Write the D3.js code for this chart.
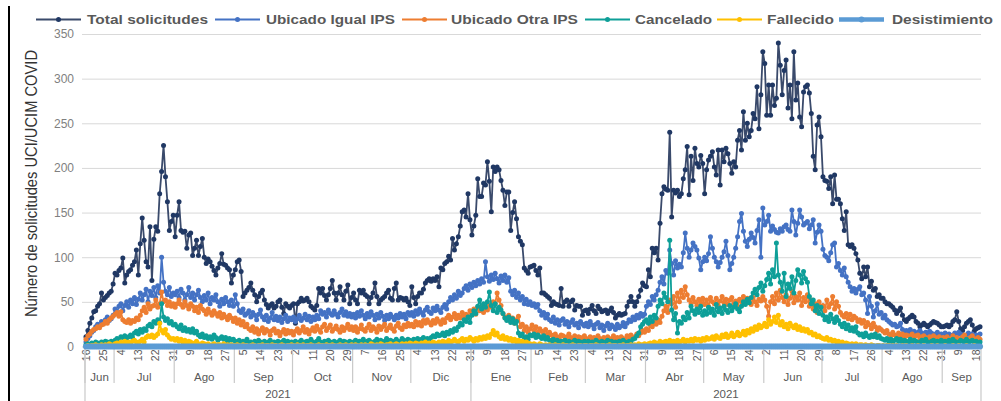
<!DOCTYPE html>
<html>
<head>
<meta charset="utf-8">
<script src="https://cdn.jsdelivr.net/npm/d3@7"></script>
<style>
  body { margin: 0; background: #fff; }
  svg { display: block; font-family: "Liberation Sans", Arial, sans-serif; }
</style>
</head>
<body>
<svg id="chart" width="1001" height="401"></svg>
<script>
// daily series, 16 Jun 2020 .. 20 Sep 2021
const startDate = new Date(2020, 5, 16);
const endDate = new Date(2021, 8, 20);

const monthNames = ["Ene", "Feb", "Mar", "Abr", "May", "Jun", "Jul", "Ago", "Sep", "Oct", "Nov", "Dic"];
const yearLabels = ["2021", "2021"];
const yTicks = [0, 50, 100, 150, 200, 250, 300, 350];
const seriesNames = ["Total solicitudes", "Ubicado Igual IPS", "Ubicado Otra IPS", "Cancelado", "Fallecido", "Desistimiento"];

const totalSolicitudes = [
  11,18,26,32,39,40,45,48,60,52,55,57,60,62,70,
  82,80,85,88,99,71,80,84,86,91,95,108,80,115,144,119,95,89,134,74,120,134,129,171,196,225,190,162,130,140,147,
  123,147,162,130,128,129,110,125,127,102,110,119,102,112,121,100,93,98,95,90,85,80,88,93,104,92,91,88,86,71,80,
  86,95,97,84,56,60,63,66,71,63,58,50,56,60,63,52,47,43,46,48,43,45,50,52,44,37,48,45,43,46,
  48,26,48,50,54,51,52,54,50,45,43,41,46,65,60,65,57,52,58,65,74,60,52,60,67,58,52,62,69,48,55,
  60,52,48,63,60,63,58,56,48,55,60,71,56,48,52,54,56,60,63,54,52,65,71,52,55,54,52,54,50,46,
  67,55,48,56,60,60,64,71,74,76,73,76,74,78,67,88,86,93,95,101,97,121,108,115,123,135,151,153,145,171,142,
  125,135,147,188,168,168,183,181,207,185,151,201,196,201,198,186,175,158,173,173,130,150,162,143,123,118,114,88,85,82,89,
  90,91,85,80,88,60,60,58,56,54,46,50,48,47,46,65,45,50,52,45,50,52,41,46,45,45,35,40,
  41,37,42,46,40,37,45,42,39,40,41,37,40,43,38,32,35,37,35,36,37,45,50,56,50,45,50,56,63,71,68,
  67,86,78,110,105,110,97,138,171,179,176,175,240,145,175,172,175,168,171,188,198,224,170,213,186,222,205,201,214,205,
  171,198,209,213,218,201,192,220,181,220,207,222,216,205,194,207,201,231,242,220,263,231,250,235,242,261,255,291,244,282,330,
  317,259,293,259,293,270,278,340,315,282,309,321,267,293,255,330,276,295,257,246,285,291,293,284,261,213,198,248,257,235,
  190,186,185,177,190,160,192,165,165,160,143,130,151,114,112,114,110,104,97,82,76,89,78,89,67,73,63,65,56,58,54,
  54,50,48,48,46,44,41,37,40,43,35,30,28,31,33,35,33,28,26,22,24,26,24,22,24,26,28,27,26,24,22,
  22,23,24,22,24,28,30,39,28,20,18,22,26,28,30,24,17,20,21,22
];

const ubicadoIgual = [
  5,9,12,16,18,22,25,24,28,26,30,33,29,31,35,
  42,38,45,48,40,46,50,44,52,48,55,47,53,60,52,58,64,50,62,57,66,55,68,60,100,72,62,58,66,56,60,
  58,62,55,64,60,52,58,66,55,60,52,58,63,55,50,57,52,60,48,55,52,58,50,45,53,48,55,50,46,52,45,
  58,48,40,38,42,35,37,40,33,38,35,30,36,41,33,30,35,28,32,38,30,34,29,33,27,31,35,28,32,30,
  33,28,31,35,29,32,36,30,34,28,33,30,35,31,40,36,38,33,41,37,35,40,36,33,38,42,35,39,34,37,33,
  36,32,38,34,40,35,31,37,33,39,35,30,36,32,38,34,29,35,31,36,33,30,35,32,37,33,36,31,38,35,
  38,34,40,36,42,38,35,41,44,39,37,43,40,45,41,38,44,47,42,50,55,52,58,54,62,57,60,65,68,63,70,
  66,72,68,74,70,76,72,95,78,73,80,75,82,76,71,79,74,80,72,77,62,58,63,55,60,52,56,48,53,47,50,
  46,48,44,47,40,35,38,32,36,30,28,33,26,30,24,29,31,25,28,22,27,30,24,26,21,28,25,23,
  26,22,28,24,20,25,27,21,24,18,23,26,20,24,22,19,25,21,23,27,22,26,30,28,33,30,35,32,37,34,36,
  45,50,47,56,52,58,63,72,78,70,85,82,108,93,80,96,88,92,89,105,127,110,100,108,116,112,108,99,86,95,
  100,96,104,123,110,100,95,89,94,100,106,118,102,86,93,100,110,123,140,149,129,118,112,120,127,122,116,130,142,100,155,
  136,140,147,129,135,131,128,127,132,129,134,136,131,129,153,140,125,138,153,145,136,138,140,132,136,142,116,128,136,129,
  109,102,100,96,105,114,116,89,93,85,80,88,78,72,67,62,65,60,64,67,58,60,52,37,56,45,33,40,48,36,38,
  32,35,30,28,26,24,25,22,23,26,19,17,18,16,19,15,17,14,16,18,15,13,16,14,17,15,13,14,16,12,14,
  13,15,12,14,11,13,15,12,16,14,12,11,13,15,12,14,11,13,12,14
];

const ubicadoOtra = [
  8,12,14,17,19,20,22,21,24,25,28,26,30,32,34,
  36,38,34,39,30,28,27,30,26,29,28,32,30,35,40,44,38,48,42,45,46,52,44,48,61,50,52,46,50,45,48,
  44,48,52,47,44,50,46,42,48,45,40,44,38,46,42,40,36,42,38,35,40,37,34,38,32,36,33,30,35,32,28,
  32,26,30,24,28,22,25,20,18,22,16,20,14,18,21,15,19,17,13,18,20,15,17,12,16,19,14,18,15,17,
  13,17,20,15,18,22,16,19,14,18,21,17,23,19,16,22,25,18,21,24,17,20,23,19,16,22,18,21,25,19,22,
  18,22,16,20,24,19,17,21,25,18,22,20,16,23,19,22,25,18,21,24,20,17,23,26,21,19,24,22,26,23,
  25,22,28,24,27,23,29,26,30,27,24,29,26,31,28,25,30,27,32,35,30,33,37,31,35,32,38,34,36,33,40,
  38,42,36,44,40,45,38,43,41,46,44,50,48,60,52,46,37,33,30,35,28,32,26,30,34,22,25,18,22,16,20,
  24,18,22,15,20,17,14,19,12,16,13,10,14,11,9,13,12,8,11,14,10,9,12,7,11,10,8,12,
  9,7,11,8,10,6,12,9,7,10,8,11,6,9,12,8,10,7,11,9,8,12,10,13,9,11,14,12,15,18,16,
  20,18,24,22,28,25,30,27,34,40,45,38,52,48,56,44,60,50,63,55,67,58,52,48,55,50,46,53,49,54,
  47,52,45,55,50,48,54,46,51,56,49,53,47,52,55,48,51,45,53,50,56,49,54,52,47,55,50,46,53,51,56,
  52,45,34,50,56,48,60,52,63,55,50,58,47,54,62,49,56,52,60,46,55,50,58,45,52,42,48,38,50,44,
  46,40,52,44,48,56,42,50,45,38,35,33,37,31,36,30,34,32,28,30,26,29,22,27,24,20,26,22,18,21,19,
  17,15,18,14,12,16,13,11,15,12,14,10,13,12,11,14,10,12,13,9,11,12,10,8,11,9,12,10,8,11,9,
  10,8,11,7,9,12,8,10,9,7,11,13,9,8,10,12,9,7,10,8
];

const cancelado = [
  2,3,2,4,3,5,4,3,5,4,6,5,4,6,5,
  7,9,8,11,10,12,9,11,13,10,15,17,14,19,16,20,18,23,25,22,28,26,30,27,48,33,29,31,26,28,24,
  25,22,20,24,18,21,17,19,16,20,15,17,13,11,14,10,12,9,11,8,13,10,7,9,11,8,10,6,9,7,8,
  6,5,7,4,6,5,8,4,5,3,6,4,7,5,3,6,4,5,7,3,5,4,6,3,5,7,4,6,3,5,
  4,6,3,5,7,4,5,6,3,8,5,4,6,9,5,3,6,4,7,5,4,6,3,5,7,4,6,5,3,6,4,
  5,7,4,6,5,8,4,6,7,5,3,6,8,5,7,4,6,9,5,7,6,4,8,6,5,9,7,6,8,7,
  6,8,7,9,6,8,10,7,9,8,10,12,11,14,12,13,15,12,16,14,18,16,20,18,22,26,24,30,28,33,27,
  35,40,37,45,52,42,48,44,50,61,46,40,48,38,44,41,37,32,29,33,27,31,26,28,15,12,14,9,11,8,13,
  12,14,10,13,11,9,12,8,10,7,6,8,5,7,4,6,5,7,4,6,3,5,7,4,6,5,3,6,
  4,6,3,5,4,7,5,3,6,4,5,7,3,6,4,5,3,6,4,7,5,4,6,5,8,9,12,15,22,25,28,
  30,26,33,28,35,32,45,52,48,60,55,50,119,41,30,37,15,28,26,33,30,38,32,45,40,36,42,38,45,35,
  40,36,44,38,42,35,47,39,43,37,45,41,38,46,40,44,48,42,39,45,50,47,53,49,55,60,64,58,66,71,62,
  68,75,82,70,86,78,116,80,72,62,82,56,70,65,78,60,74,86,80,71,84,76,72,56,48,52,40,46,37,44,
  35,30,33,28,36,31,27,33,29,25,22,26,20,24,18,21,17,22,15,13,14,11,15,12,10,13,11,14,10,12,9,
  8,7,9,6,8,5,7,9,6,8,5,7,6,4,8,5,7,6,4,5,7,6,8,5,4,6,7,5,6,4,7,
  5,6,4,7,5,8,6,4,5,7,6,5,8,4,6,7,5,6,4,5
];

const fallecido = [
  0,1,0,1,1,2,1,0,2,1,2,1,3,2,1,
  3,4,2,5,3,6,4,5,3,6,7,5,4,6,8,5,10,12,11,13,10,12,14,26,18,15,19,13,10,8,9,
  7,9,6,8,5,7,4,6,5,3,4,6,3,2,4,3,2,3,1,2,3,1,2,2,1,3,1,2,1,2,1,
  1,2,1,0,2,1,1,0,1,2,1,0,1,1,2,0,1,1,0,2,1,1,0,1,2,1,0,1,1,2,
  1,0,2,1,1,2,0,1,1,2,1,0,1,2,1,1,0,2,1,1,2,1,0,1,2,1,1,2,0,1,2,
  1,2,1,0,2,1,2,1,1,3,2,1,2,1,3,2,1,2,2,3,1,2,3,2,1,3,2,3,2,4,
  3,2,4,3,2,4,3,5,3,4,2,5,4,3,5,4,6,5,4,7,5,6,8,6,5,7,9,6,8,7,10,
  8,6,9,7,10,8,11,9,12,10,14,18,13,15,11,9,12,8,10,7,9,6,8,5,7,4,6,3,5,4,3,
  2,3,2,1,3,2,1,2,1,2,0,1,2,1,1,0,2,1,1,0,1,2,1,0,1,1,0,1,
  1,0,1,1,0,2,1,0,1,1,0,1,2,0,1,1,0,1,1,2,0,1,1,2,1,2,1,3,2,2,3,
  2,3,4,3,5,4,3,6,4,5,6,4,7,5,6,4,7,5,6,8,5,7,6,8,6,9,7,8,6,9,
  7,10,8,9,11,8,12,10,9,13,11,14,10,12,15,11,13,16,12,14,17,13,18,15,20,17,22,19,24,21,23,
  26,22,30,25,28,33,27,35,24,28,22,25,20,26,23,21,24,19,22,18,20,17,19,15,16,13,14,11,12,10,
  9,8,10,7,8,6,7,5,6,4,5,3,4,3,2,3,2,3,1,2,2,1,2,1,1,2,1,0,1,1,0,
  1,0,1,1,0,1,0,1,0,0,1,0,1,0,0,1,0,0,1,0,0,1,0,0,0,1,0,0,1,0,0,
  0,1,0,0,0,1,0,0,1,0,0,0,1,0,0,0,1,0,0,0
];

const desistimiento = [
  0,0,0,0,0,0,0,0,0,0,0,0,0,0,0,
  0,0,0,0,0,0,0,0,0,0,0,0,0,0,0,0,0,0,0,0,0,0,0,0,0,0,0,0,0,0,0,
  0,0,0,0,0,0,0,0,0,0,0,0,0,0,0,0,0,0,0,0,0,0,0,0,0,0,0,0,0,0,0,
  0,0,0,0,0,0,0,0,0,0,0,0,0,0,0,0,0,0,0,0,0,0,0,0,0,0,0,0,0,0,
  0,0,0,0,0,0,0,0,0,0,0,0,0,0,0,0,0,0,0,0,0,0,0,0,0,0,0,0,0,0,0,
  0,0,0,0,0,0,0,0,0,0,0,0,0,0,0,0,0,0,0,0,0,0,0,0,0,0,0,0,0,0,
  0,0,0,0,0,0,0,0,0,0,0,0,0,0,0,0,0,0,0,0,0,0,0,0,0,0,0,0,0,0,0,
  0,0,0,0,0,0,0,0,0,0,0,0,0,0,0,0,0,0,0,0,0,0,0,0,0,0,0,0,0,0,0,
  0,0,0,0,0,0,0,0,0,0,0,0,0,0,0,0,0,0,0,0,0,0,0,0,0,0,0,0,
  0,0,0,0,0,0,0,0,0,0,0,0,0,0,0,0,0,0,0,0,0,0,0,0,0,0,0,0,0,0,0,
  0,0,0,0,0,0,0,0,0,0,0,0,0,0,0,0,0,0,0,0,0,0,0,0,0,0,0,0,0,0,
  0,0,0,0,0,0,0,0,0,0,0,0,0,0,0,0,0,0,0,0,0,0,0,0,0,0,0,0,0,0,0,
  0,0,0,0,0,0,0,0,0,0,0,0,0,0,0,0,0,0,0,0,0,0,0,0,0,0,0,0,0,0,
  0,0,0,0,0,0,0,0,0,0,0,0,0,0,0,0,0,0,0,0,0,0,0,0,0,0,0,0,0,0,0,
  0,0,0,0,0,0,0,0,0,0,0,0,0,0,0,0,0,0,0,0,0,0,0,0,0,0,0,0,0,0,0,
  0,0,0,0,0,0,0,0,0,0,0,0,0,0,0,0,0,0,0,0
];

const svg = d3.select("#chart");
const days = d3.timeDay.range(startDate, d3.timeDay.offset(endDate, 1));
const n = days.length;

const plotLeft = 85, plotRight = 981, plotTop = 34, plotBottom = 346.5;
const x = d3.scaleBand().domain(d3.range(n)).range([plotLeft, plotRight]);
const cx = i => x(i) + x.bandwidth() / 2;
const y = d3.scaleLinear().domain([0, 350]).range([plotBottom, plotTop]);

const series = [
  { name: seriesNames[0], values: totalSolicitudes, line: "#3a4a6b", dot: "#203864", width: 1.8, r: 2.5 },
  { name: seriesNames[1], values: ubicadoIgual, line: "#4472c4", dot: "#4472c4", width: 1.8, r: 2.5 },
  { name: seriesNames[2], values: ubicadoOtra, line: "#ed7d31", dot: "#ed7d31", width: 1.8, r: 2.5 },
  { name: seriesNames[3], values: cancelado, line: "#0e9f98", dot: "#0e9f98", width: 1.8, r: 2.5 },
  { name: seriesNames[4], values: fallecido, line: "#ffc000", dot: "#ffc000", width: 1.8, r: 2.5 },
  { name: seriesNames[5], values: desistimiento, line: "#5b9bd5", dot: "#5b9bd5", width: 4.5, r: 3 }
];

// left border of the frame
svg.append("line").attr("x1", 9).attr("x2", 9).attr("y1", 6).attr("y2", 401)
  .attr("stroke", "#000").attr("stroke-width", 2);

// grid + y labels
const yAxis = svg.append("g").attr("transform", `translate(${plotLeft},0)`)
  .call(d3.axisLeft(y).tickValues(yTicks).tickSize(-(plotRight - plotLeft)).tickPadding(11));
yAxis.select(".domain").remove();
yAxis.selectAll(".tick line").attr("stroke", "#d9d9d9");
yAxis.selectAll(".tick text").attr("fill", "#7f7f7f").style("font-size", "12px");
yAxis.selectAll(".tick").append("line").attr("x1", -3).attr("x2", 0).attr("stroke", "#d9d9d9");

svg.append("text")
  .attr("transform", `translate(37,${(50 + 317) / 2}) rotate(-90)`)
  .attr("text-anchor", "middle")
  .attr("textLength", 267).attr("lengthAdjust", "spacingAndGlyphs")
  .attr("fill", "#333")
  .style("font-family", "'Liberation Sans Narrow', 'Liberation Sans', Arial, sans-serif")
  .style("font-size", "17px")
  .text("Número de solicitudes UCI/UCIM COVID");

// x axis: day labels every 9 days
const xAxis = svg.append("g").attr("transform", `translate(0,${plotBottom})`)
  .call(d3.axisBottom(x).tickValues(d3.range(0, n, 9)).tickFormat(i => days[i].getDate()).tickSize(0));
xAxis.select(".domain").attr("stroke", "#d9d9d9");
xAxis.selectAll(".tick text")
  .attr("transform", "translate(0,3) rotate(-90)")
  .attr("x", 0).attr("y", 0).attr("dy", "0.35em")
  .attr("text-anchor", "end")
  .attr("fill", "#595959").style("font-size", "10.5px");

// month and year groups
const months = d3.groups(d3.range(n), i => days[i].getFullYear() * 12 + days[i].getMonth());
const years = d3.groups(d3.range(n), i => days[i].getFullYear());
const gx = svg.append("g");
months.forEach(([key, idx]) => {
  const x0 = x(idx[0]), x1 = x(idx[idx.length - 1]) + x.bandwidth();
  gx.append("line").attr("x1", x0).attr("x2", x0).attr("y1", plotBottom).attr("y2", 383)
    .attr("stroke", "#c9c9c9").attr("stroke-width", 1.2);
  gx.append("text").attr("x", (x0 + x1) / 2).attr("y", 381)
    .attr("text-anchor", "middle").attr("fill", "#595959").style("font-size", "11.5px")
    .text(monthNames[key % 12]);
});
years.forEach(([yr, idx], k) => {
  const x0 = x(idx[0]), x1 = x(idx[idx.length - 1]) + x.bandwidth();
  gx.append("line").attr("x1", x0).attr("x2", x0).attr("y1", plotBottom).attr("y2", 401)
    .attr("stroke", "#c9c9c9").attr("stroke-width", 1.2);
  if (k === years.length - 1)
    gx.append("line").attr("x1", x1).attr("x2", x1).attr("y1", plotBottom).attr("y2", 401)
      .attr("stroke", "#c9c9c9").attr("stroke-width", 1.2);
  gx.append("text").attr("x", (x0 + x1) / 2).attr("y", 398)
    .attr("text-anchor", "middle").attr("fill", "#595959").style("font-size", "11.5px")
    .text(yearLabels[k]);
});

// series
const line = d3.line().x((d, i) => cx(i)).y(d => y(d));
series.forEach(s => {
  const g = svg.append("g");
  g.append("path").datum(s.values).attr("d", line)
    .attr("fill", "none").attr("stroke", s.line).attr("stroke-width", s.width)
    .attr("stroke-linejoin", "round");
  g.selectAll("circle").data(s.values).join("circle")
    .attr("cx", (d, i) => cx(i)).attr("cy", d => y(d)).attr("r", s.r).attr("fill", s.dot);
});

// legend
const legLine = [36, 215, 402, 585, 717, 839];
const legText = [87, 266, 451, 635, 767, 892];
const legWidth = [121, 129, 127, 77, 67, 101];
series.forEach((s, k) => {
  const g = svg.append("g");
  g.append("line").attr("x1", legLine[k]).attr("x2", legLine[k] + 45).attr("y1", 19.5).attr("y2", 19.5)
    .attr("stroke", s.line).attr("stroke-width", s.width);
  g.append("circle").attr("cx", legLine[k] + 22.5).attr("cy", 19.5).attr("r", s.r).attr("fill", s.dot);
  g.append("text").attr("x", legText[k]).attr("y", 24)
    .attr("textLength", legWidth[k]).attr("lengthAdjust", "spacingAndGlyphs")
    .attr("fill", "#595959").style("font-size", "13.5px").style("font-weight", "bold")
    .text(s.name);
});
</script>
</body>
</html>
